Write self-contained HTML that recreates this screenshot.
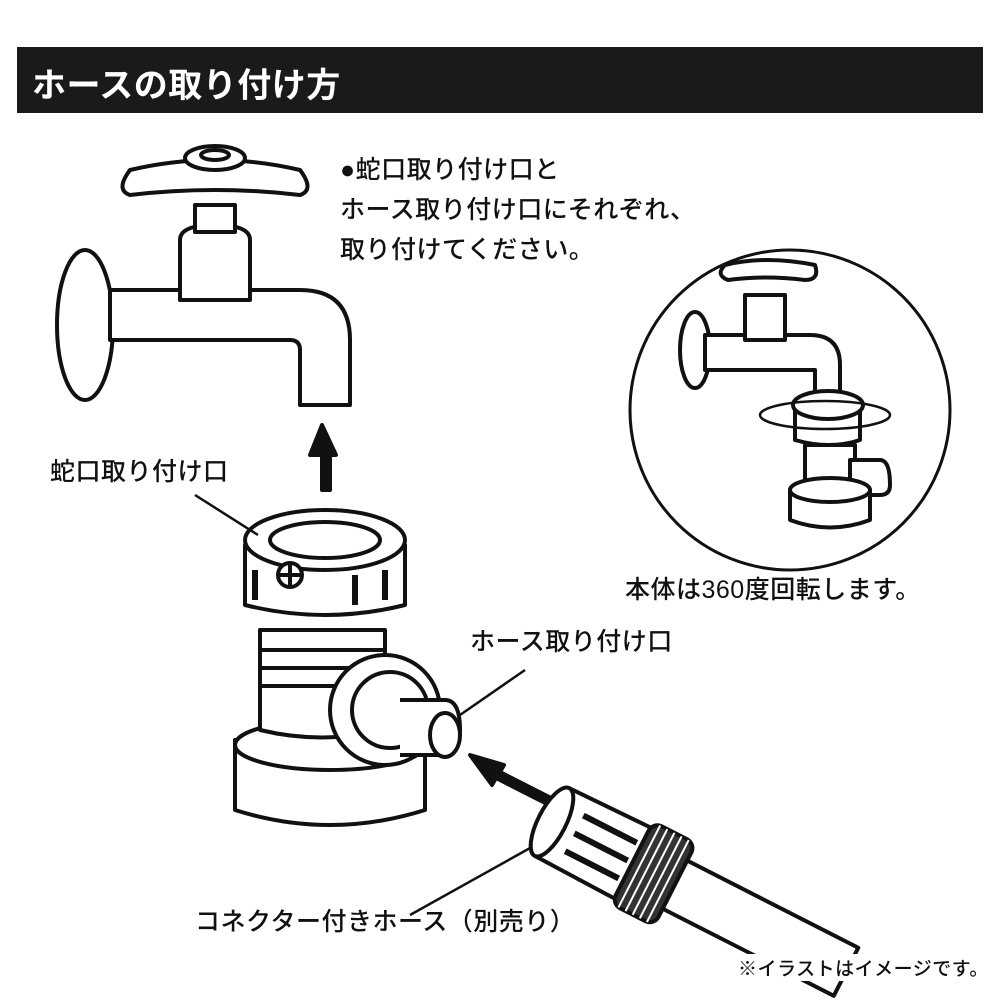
<!DOCTYPE html>
<html><head><meta charset="utf-8">
<style>
html,body{margin:0;padding:0;background:#fff;}
body{width:1000px;height:1000px;position:relative;overflow:hidden;font-family:"Liberation Sans","Noto Sans CJK JP",sans-serif;color:#111;}
.t{position:absolute;white-space:nowrap;font-weight:500;letter-spacing:0.5px;}
</style></head><body>
<svg width="1000" height="1000" style="position:absolute;left:0;top:0" fill="#fff" stroke="#111" stroke-width="4" stroke-linejoin="round">
<!-- big faucet -->
<ellipse cx="85" cy="325" rx="28" ry="75"/>
<path d="M110 290 H300 Q350 290 350 340 V405 H300 V350 Q300 340 290 340 H110 Z"/>
<path d="M180 240 Q180 225 215 225 Q250 225 250 240 V300 H180 Z"/>
<path d="M195 205 H235 V232 H195 Z"/>
<path d="M130 170 Q215 150 300 170 Q315 190 300 195 Q215 185 130 195 Q115 190 130 170Z"/>
<ellipse cx="215" cy="158" rx="30" ry="12"/>
<ellipse cx="215" cy="155" rx="14" ry="5"/>
<!-- arrow up -->
<path d="M322 490 V455 H310 L322 425 L336 455 H330 V490 Z" fill="#111"/>
<!-- adapter body -->
<path d="M235 740 V810 Q330 840 425 810 V740 Z"/>
<ellipse cx="330" cy="745" rx="95" ry="25"/>
<path d="M260 630 H385 V730 Q322 745 260 730 Z"/>
<path d="M262 650 H383 M262 668 H383 M262 686 H383"/>
<circle cx="385" cy="710" r="55"/>
<circle cx="390" cy="710" r="38"/>
<path d="M400 700 H445 Q460 700 460 730 Q460 755 445 755 H400"/>
<ellipse cx="445" cy="735" rx="15" ry="22"/>
<path d="M245 545 V605 Q325 625 405 605 V545 Z"/>
<ellipse cx="325" cy="540" rx="80" ry="30"/>
<ellipse cx="325" cy="540" rx="55" ry="18"/>
<circle cx="290" cy="575" r="12"/>
<path d="M280 575 H300 M290 565 V585" />
<path d="M255 570 V600 M355 575 V605 M385 570 V600" stroke-width="6"/>
<!-- leader lines -->
<path d="M195 495 L258 535" stroke-width="2.5" fill="none"/>
<path d="M460 715 L525 670" stroke-width="2.5" fill="none"/>
<path d="M410 915 L548 838" stroke-width="2.5" fill="none"/>
<!-- arrow to hose -->
<path d="M555 800 L500 772 L504 765 L470 755 L492 785 L496 778 L551 806 Z" fill="#111"/>
<!-- hose -->
<g transform="translate(552,822) rotate(27)">
<path d="M130 -27 H330 V27 H130 Z"/>
<path d="M0 -38 L100 -40 L100 40 L0 38 Z"/>
<path d="M25 -20 H85 M25 0 H85 M25 20 H85" stroke-width="6"/>
<rect x="90" y="-46" width="48" height="92" rx="10" fill="#333"/>
<path d="M98 -46 V46 M106 -46 V46 M114 -46 V46 M122 -46 V46 M130 -46 V46" stroke="#fff" stroke-width="2"/>
<ellipse cx="0" cy="0" rx="14" ry="38"/>
</g>
<!-- inset circle -->
<circle cx="790" cy="410" r="160" stroke-width="3"/>
<ellipse cx="695" cy="350" rx="15" ry="38"/>
<path d="M705 335 H810 Q840 335 840 365 V395 H815 V370 H705 Z"/>
<path d="M745 295 H785 V340 H745 Z"/>
<path d="M725 265 Q765 255 815 265 Q820 280 805 280 Q765 275 728 280 Q715 275 725 265Z"/>
<path d="M795 410 V440 Q830 450 860 440 V410 Z"/>
<ellipse cx="828" cy="405" rx="35" ry="14"/>
<ellipse cx="825" cy="415" rx="65" ry="14" fill="none" stroke-width="2.5"/>
<path d="M805 445 H855 V490 H805 Z"/>
<path d="M850 460 H880 Q890 460 890 485 Q890 495 880 495 H850 Z"/>
<path d="M790 490 V520 Q830 535 870 520 V490 Z"/>
<ellipse cx="830" cy="490" rx="40" ry="12"/>
</svg>
<div style="position:absolute;left:17px;top:47px;width:966px;height:66px;background:#1a1a1a;"></div>
<div class="t" style="left:32px;top:58px;font-size:34px;font-weight:bold;color:#fff;">ホースの取り付け方</div>
<div class="t" style="left:340px;top:150px;font-size:25px;line-height:40px;">●蛇口取り付け口と<br>ホース取り付け口にそれぞれ、<br>取り付けてください。</div>
<div class="t" style="left:50px;top:452px;font-size:25px;">蛇口取り付け口</div>
<div class="t" style="left:470px;top:622px;font-size:25px;">ホース取り付け口</div>
<div class="t" style="left:625px;top:570px;font-size:25px;">本体は360度回転します。</div>
<div class="t" style="left:195px;top:902px;font-size:25px;">コネクター付きホース（別売り）</div>
<div class="t" style="left:738px;top:954px;font-size:19px;background:#fff;">※イラストはイメージです。</div>
</body></html>
